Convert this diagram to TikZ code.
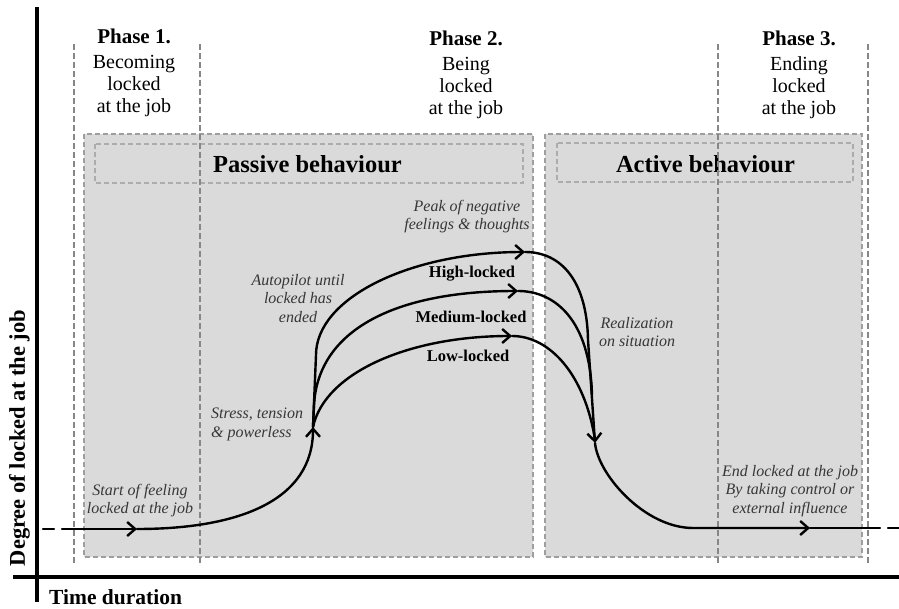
\documentclass[tikz,border=0pt]{standalone}
\usepackage{fontspec}
\setmainfont{Liberation Serif}
\usetikzlibrary{arrows.meta}
\definecolor{panelfill}{RGB}{218,218,218}
\definecolor{phaseline}{RGB}{135,135,135}
\definecolor{panelline}{RGB}{158,158,158}
\definecolor{titleline}{RGB}{172,172,172}
\definecolor{notetext}{RGB}{55,55,55}

\begin{document}
\begin{tikzpicture}[x=1pt,y=-1pt,
  panel/.style={fill=panelfill, draw=panelline, line width=1.3pt, dash pattern=on 5pt off 3pt},
  titlebox/.style={draw=titleline, line width=1.1pt, dash pattern=on 5pt off 3pt},
  phasesep/.style={draw=phaseline, line width=2.3pt, dash pattern=on 6pt off 3pt},
  flow/.style={line width=2.4pt, line cap=round},
  tip/.style={-{Straight Barb[length=8pt,width=14pt]}},
  note/.style={font=\fontsize{16}{18.5}\selectfont\itshape, text=notetext, align=center, inner sep=0pt, anchor=north},
  level/.style={font=\fontsize{16.5}{18}\selectfont\bfseries, inner sep=0pt, anchor=base},
  phasetext/.style={font=\fontsize{20}{22}\selectfont, align=center, inner sep=0pt, anchor=north},
  behaviour/.style={font=\fontsize{24.5}{26}\selectfont\bfseries, inner sep=0pt, anchor=base},
  axislabel/.style={font=\fontsize{22.5}{24}\selectfont\bfseries, inner sep=0pt},
  axisline/.style={line width=3.5pt}
]
\useasboundingbox (0,0) rectangle (899,609);

% behaviour panels with their dashed title boxes
\draw[panel] (84,134) rectangle (533,557);
\draw[panel] (545,134) rectangle (862,557);
\draw[titlebox] (95,144) rectangle (523,183);
\draw[titlebox] (557,143) rectangle (853,182);
\node[behaviour] (passive) at (307.5,173) {Passive behaviour};
\node[behaviour] (active) at (705.5,173) {Active behaviour};

% phase separators
\coordinate (p1a top) at (74,44);  \coordinate (p1a bot) at (74,563);
\coordinate (p1b top) at (200,44); \coordinate (p1b bot) at (200,563);
\coordinate (p3a top) at (718,44); \coordinate (p3a bot) at (718,563);
\coordinate (p3b top) at (868,44); \coordinate (p3b bot) at (868,563);
\draw[phasesep] (p1a top) -- (p1a bot);
\draw[phasesep] (p1b top) -- (p1b bot);
\draw[phasesep] (p3a top) -- (p3a bot);
\draw[phasesep] (p3b top) -- (p3b bot);

% phase headings
\node[phasetext] (phase1) at (134,28.5) {{\fontsize{21}{22}\selectfont\bfseries Phase 1.}\\[3pt]Becoming\\locked\\at the job};
\node[phasetext] (phase2) at (466,30.5) {{\fontsize{21}{22}\selectfont\bfseries Phase 2.}\\[3pt]Being\\locked\\at the job};
\node[phasetext] (phase3) at (799,30.5) {{\fontsize{21}{22}\selectfont\bfseries Phase 3.}\\[3pt]Ending\\locked\\at the job};

% axes
\coordinate (yaxis top) at (37,7);   \coordinate (yaxis bot) at (37,602);
\coordinate (xaxis left) at (13,577); \coordinate (xaxis right) at (899,577);
\draw[axisline] (yaxis top) -- (yaxis bot);
\draw[axisline] (xaxis left) -- (xaxis right);
\node[axislabel, rotate=90] (ylabel) at (19.5,438) {Degree of locked at the job};
\node[axislabel, font=\fontsize{21.5}{24}\selectfont\bfseries, anchor=base west] (xlabel) at (49,604) {Time duration};

% key points of the trajectory
\coordinate (lead a) at (43,529);
\coordinate (lead b) at (54,529);
\coordinate (solid start) at (62,529);
\coordinate (start tip) at (137,529);
\coordinate (split) at (313,427);
\coordinate (high rise) at (316,355);
\coordinate (med rise) at (314,405);
\coordinate (high tip) at (525,252);
\coordinate (med tip) at (518,291);
\coordinate (low tip) at (512,336);
\coordinate (high fall) at (588,340);
\coordinate (med join) at (592,395);
\coordinate (low join) at (595,440);
\coordinate (down tip) at (595,443);
\coordinate (settle) at (693,528);
\coordinate (end tip) at (810,528);
\coordinate (solid end) at (880,528);
\coordinate (trail a) at (888,528);
\coordinate (trail b) at (899,528);

% becoming locked
\draw[flow] (lead a) -- (lead b);
\draw[flow,tip] (solid start) -- (start tip);
\draw[flow,tip] (start tip) .. controls (240,529) and (313,500) .. (split);

% the three levels rising
\draw[flow,tip] (split) -- (high rise) .. controls (316,298) and (410,252) .. (high tip);
\draw[flow,tip] (split) -- (med rise) .. controls (318,330) and (395,291) .. (med tip);
\draw[flow,tip] (split) .. controls (325,372) and (410,336) .. (low tip);

% the three levels falling
\draw[flow,tip] (high tip) .. controls (562,252) and (587,282) .. (high fall) -- (down tip);
\draw[flow] (med tip) .. controls (555,291) and (590,320) .. (med join);
\draw[flow] (low tip) .. controls (550,336) and (585,375) .. (low join);

% ending locked
\draw[flow,tip] (down tip) .. controls (598,475) and (645,528) .. (settle) -- (end tip);
\draw[flow] (end tip) -- (solid end);
\draw[flow] (trail a) -- (trail b);

% level labels
\node[level] (high) at (472,278) {High-locked};
\node[level] (medium) at (471,323) {Medium-locked};
\node[level] (low) at (468,362) {Low-locked};

% annotations
\node[note] (startnote) at (140,484) {Start of feeling\\locked at the job};
\node[note, align=left, anchor=north west] (stressnote) at (211,408) {Stress, tension\\\& powerless};
\node[note] (autonote) at (298,274) {Autopilot until\\locked has\\ended};
\node[note] (peaknote) at (467,200) {Peak of negative\\feelings \& thoughts};
\node[note] (realnote) at (637,317) {Realization\\on situation};
\node[note] (endnote) at (790,465) {End locked at the job\\By taking control or\\external influence};
\end{tikzpicture}
\end{document}
